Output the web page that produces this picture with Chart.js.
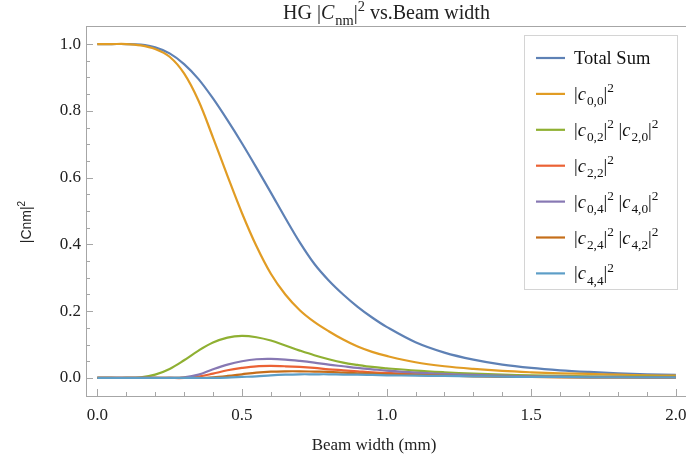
<!DOCTYPE html>
<html>
<head>
<meta charset="utf-8">
<script src="https://cdn.jsdelivr.net/npm/chart.js@4"></script>
<style>
    html, body { margin: 0; padding: 0; background: #fff; }
    #wrap { width: 686px; height: 460px; }
</style>
</head>
<body>
<div id="wrap"><canvas id="chart" width="686" height="460"></canvas></div>
<script>
// beam width (mm)
const beamWidth = [0, 0.05, 0.1, 0.15, 0.2, 0.25, 0.3, 0.35, 0.4, 0.45, 0.5, 0.55, 0.6, 0.65, 0.7, 0.75,
    0.8, 0.85, 0.9, 0.95, 1.0, 1.1, 1.2, 1.3, 1.4, 1.5, 1.6, 1.7, 1.8, 1.9, 2.0];

const totalSum = [1.0, 1.0, 1.0, 0.998, 0.99, 0.972, 0.94, 0.895, 0.837, 0.772, 0.703, 0.630, 0.555, 0.479, 0.406, 0.342,
    0.292, 0.250, 0.213, 0.181, 0.153, 0.107, 0.076, 0.055, 0.040, 0.030, 0.023, 0.018, 0.014, 0.011, 0.009];
const c00 = [1.0, 1.0, 1.0, 0.996, 0.985, 0.962, 0.912, 0.83, 0.72, 0.605, 0.494, 0.395, 0.312, 0.250, 0.203, 0.168,
    0.140, 0.115, 0.094, 0.078, 0.066, 0.047, 0.035, 0.027, 0.021, 0.017, 0.014, 0.012, 0.010, 0.008, 0.007];
const c02c20 = [0, 0, 0, 0.002, 0.01, 0.027, 0.053, 0.082, 0.106, 0.121, 0.126, 0.122, 0.112, 0.097, 0.082, 0.068,
    0.056, 0.046, 0.039, 0.033, 0.029, 0.022, 0.017, 0.013, 0.010, 0.008, 0.006, 0.005, 0.004, 0.004, 0.003];
const c22 = [0, 0, 0, 0, 0, 0, 0, 0.004, 0.013, 0.023, 0.030, 0.035, 0.036, 0.035, 0.033, 0.030,
    0.026, 0.023, 0.020, 0.017, 0.015, 0.011, 0.008, 0.006, 0.004, 0.003, 0.003, 0.002, 0.002, 0.002, 0.002];
const c04c40 = [0, 0, 0, 0, 0, 0, 0.002, 0.01, 0.026, 0.040, 0.050, 0.056, 0.057, 0.055, 0.051, 0.046,
    0.040, 0.035, 0.030, 0.026, 0.022, 0.016, 0.012, 0.009, 0.007, 0.005, 0.004, 0.003, 0.003, 0.002, 0.002];
const c24c42 = [0, 0, 0, 0, 0, 0, 0, 0, 0.002, 0.006, 0.011, 0.016, 0.019, 0.020, 0.020, 0.019,
    0.018, 0.016, 0.014, 0.013, 0.011, 0.009, 0.007, 0.005, 0.004, 0.003, 0.002, 0.002, 0.002, 0.002, 0.002];
const c44 = [0, 0, 0, 0, 0, 0, 0, 0, 0, 0.001, 0.003, 0.005, 0.008, 0.010, 0.011, 0.011,
    0.011, 0.010, 0.010, 0.009, 0.008, 0.007, 0.006, 0.005, 0.004, 0.003, 0.003, 0.002, 0.002, 0.002, 0.002];

// rich text markup: *x* italic, _{..} subscript, ^{..} superscript
const seriesNames = ['Total Sum', '|*c*_{0,0}|^{2}', '|*c*_{0,2}|^{2} |*c*_{2,0}|^{2}', '|*c*_{2,2}|^{2}',
    '|*c*_{0,4}|^{2} |*c*_{4,0}|^{2}', '|*c*_{2,4}|^{2} |*c*_{4,2}|^{2}', '|*c*_{4,4}|^{2}'];
const seriesColors = ['#5e81b5', '#e19c24', '#8fb032', '#eb6235', '#8778b3', '#c56e1a', '#5d9ec7'];

const titleText = 'HG |*C*_{nm}|^{2} vs.Beam width';
const xTitle = 'Beam width (mm)';
const yTitle = '|Cnm|^{2}';

const xMajor = [0, 0.5, 1.0, 1.5, 2.0];
const yMajor = [0, 0.2, 0.4, 0.6, 0.8, 1.0];

const serif = '"Liberation Serif", "Times New Roman", serif';
const sans = '"Liberation Sans", Arial, sans-serif';

const parseRich = (str) => {
    const out = [];
    let i = 0, buf = '', italic = false;
    const flush = () => {
        if (buf) out.push({ t: buf, italic: italic, pos: 'n' });
        buf = '';
    };
    while (i < str.length) {
        const ch = str[i];
        if (ch === '*') { flush(); italic = !italic; i++; continue; }
        if ((ch === '_' || ch === '^') && str[i + 1] === '{') {
            flush();
            const end = str.indexOf('}', i);
            out.push({ t: str.slice(i + 2, end), italic: false, pos: ch === '_' ? 'sub' : 'sup' });
            i = end + 1;
            continue;
        }
        buf += ch;
        i++;
    }
    flush();
    return out;
};

const richWidth = (ctx, segs, size, family) => {
    let w = 0;
    for (const s of segs) {
        const fs = s.pos === 'n' ? size : size * 0.72;
        ctx.font = (s.italic ? 'italic ' : '') + fs + 'px ' + family;
        w += ctx.measureText(s.t).width;
    }
    return w;
};

const drawRich = (ctx, str, x, y, size, family, align) => {
    const segs = parseRich(str);
    let cx = x;
    if (align === 'center') cx = x - richWidth(ctx, segs, size, family) / 2;
    ctx.textBaseline = 'alphabetic';
    ctx.textAlign = 'left';
    for (const s of segs) {
        const fs = s.pos === 'n' ? size : size * 0.72;
        let dy = 0;
        if (s.pos === 'sub') dy = size * 0.28;
        if (s.pos === 'sup') dy = -size * 0.42;
        ctx.font = (s.italic ? 'italic ' : '') + fs + 'px ' + family;
        ctx.fillText(s.t, cx, y + dy);
        cx += ctx.measureText(s.t).width + (s.italic ? 1 : 0);
    }
};

const allSeries = [totalSum, c00, c02c20, c22, c04c40, c24c42, c44];

const datasets = allSeries.map((vals, i) => ({
    label: seriesNames[i],
    data: beamWidth.map((x, j) => ({ x: x, y: vals[j] })),
    borderColor: seriesColors[i],
    backgroundColor: seriesColors[i],
    borderWidth: 2.2,
    pointRadius: 0,
    fill: false,
    tension: 0.35,
    order: allSeries.length - i
}));

const frameColor = '#a6a6a6';

const mathematicaFrame = {
    id: 'mathematicaFrame',
    afterDraw(chart) {
        const { ctx, chartArea: a, scales } = chart;
        ctx.save();
        ctx.strokeStyle = frameColor;
        ctx.lineWidth = 1;
        // top edge
        ctx.beginPath();
        ctx.moveTo(a.left, a.top + 0.5);
        ctx.lineTo(a.right, a.top + 0.5);
        ctx.stroke();

        // inward ticks
        ctx.beginPath();
        for (let k = 0; k <= 20; k++) {
            const v = k / 10;
            const px = Math.round(scales.x.getPixelForValue(v)) + 0.5;
            const len = xMajor.some(m => Math.abs(m - v) < 1e-9) ? 7 : 4;
            ctx.moveTo(px, a.bottom);
            ctx.lineTo(px, a.bottom - len);
        }
        for (let k = 0; k <= 20; k++) {
            const v = k / 20;
            const py = Math.round(scales.y.getPixelForValue(v)) + 0.5;
            const len = yMajor.some(m => Math.abs(m - v) < 1e-9) ? 7 : 4;
            ctx.moveTo(a.left, py);
            ctx.lineTo(a.left + len, py);
        }
        ctx.stroke();

        // titles
        ctx.fillStyle = '#222';
        drawRich(ctx, titleText, (a.left + a.right) / 2, 19, 20, serif, 'center');
        ctx.font = '17px ' + serif;
        ctx.textAlign = 'center';
        ctx.fillText(xTitle, 374, 450);

        ctx.save();
        ctx.translate(31, 222);
        ctx.rotate(-Math.PI / 2);
        drawRich(ctx, yTitle, 0, 0, 14, sans, 'center');
        ctx.restore();

        // legend
        const lx = 524, ly = 35, lw = 153, lh = 254;
        ctx.fillStyle = '#fff';
        ctx.fillRect(lx, ly, lw, lh);
        ctx.strokeStyle = '#d4d4d4';
        ctx.strokeRect(lx + 0.5, ly + 0.5, lw, lh);
        seriesNames.forEach((name, i) => {
            const yy = 58 + i * 35.9;
            ctx.strokeStyle = seriesColors[i];
            ctx.lineWidth = 2.2;
            ctx.beginPath();
            ctx.moveTo(536, yy);
            ctx.lineTo(565, yy);
            ctx.stroke();
            ctx.fillStyle = '#111';
            drawRich(ctx, name, 574, yy + 6, 18.5, serif, 'left');
        });
        ctx.restore();
    }
};

new Chart(document.getElementById('chart'), {
    type: 'line',
    data: { datasets: datasets },
    options: {
        responsive: false,
        animation: false,
        layout: { padding: { left: 0, top: 26, right: 0, bottom: 0 } },
        plugins: {
            legend: { display: false },
            title: { display: false },
            tooltip: { enabled: false }
        },
        scales: {
            x: {
                type: 'linear',
                min: -0.039,
                max: 2.035,
                afterBuildTicks: (scale) => {
                    scale.ticks = xMajor.map(v => ({ value: v }));
                },
                afterFit: (scale) => {
                    scale.height = 64;
                    scale.paddingLeft = 0;
                    scale.paddingRight = 0;
                },
                grid: { display: false, drawTicks: false },
                border: { display: true, color: frameColor, width: 1 },
                ticks: {
                    padding: 9,
                    color: '#222',
                    font: { family: serif, size: 17 },
                    maxRotation: 0,
                    callback: (v) => v.toFixed(1)
                }
            },
            y: {
                type: 'linear',
                min: -0.054,
                max: 1.054,
                afterBuildTicks: (scale) => {
                    scale.ticks = yMajor.map(v => ({ value: v }));
                },
                afterFit: (scale) => {
                    scale.width = 86;
                    scale.paddingTop = 0;
                    scale.paddingBottom = 0;
                },
                grid: { display: false, drawTicks: false },
                border: { display: true, color: frameColor, width: 1 },
                ticks: {
                    padding: 5,
                    color: '#222',
                    font: { family: serif, size: 17 },
                    callback: (v) => v.toFixed(1)
                }
            }
        }
    },
    plugins: [mathematicaFrame]
});
</script>
</body>
</html>
